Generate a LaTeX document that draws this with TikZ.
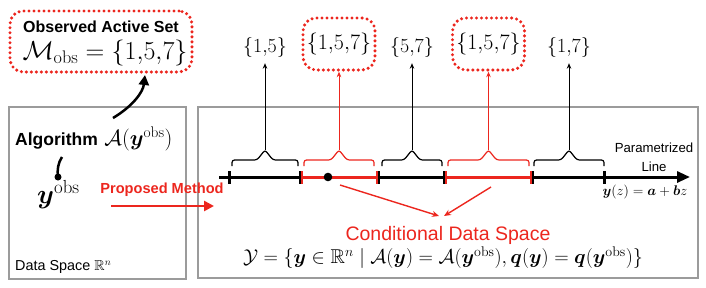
\RequirePackage{fix-cm}
\documentclass[tikz,border=0pt]{standalone}
\usepackage{amsmath,amssymb,bm}
\usepackage{fontspec}
\setsansfont{Liberation Sans}
\usetikzlibrary{arrows.meta}
\definecolor{myred}{RGB}{236,38,30}
\definecolor{mygray}{RGB}{155,155,155}
\newcommand{\fs}[1]{\fontsize{#1}{#1}\selectfont}
\tikzset{
  graybox/.style={draw=mygray, line width=2.2pt},
  reddot/.style={draw=myred, line width=3.4pt, dash pattern=on 0pt off 5pt, line cap=round, rounded corners=13pt},
  setlabel/.style={font=\fs{20}, inner sep=0pt, minimum height=32pt},
  boxlabel/.style={font=\fs{22}, reddot, inner sep=0pt, minimum width=72pt, minimum height=52pt},
  hatline/.style={line width=1.2pt},
  tickmark/.style={line width=3pt},
  pics/hat/.style={code={
    \draw[hatline, rounded corners=2.5pt] (-#1,6) -- (-#1,0) -- (-8,0) -- (0,-10) -- (8,0) -- (#1,0) -- (#1,6);
  }},
  uparrow/.style={line width=0.8pt, -{Stealth[length=5.5pt,width=4.5pt]}},
}
\begin{document}
\begin{tikzpicture}[x=1pt,y=-1pt]
\useasboundingbox (0,0) rectangle (706,287);

% boxes
\draw[graybox] (9,107) rectangle (186,279);
\draw[graybox] (198,107) rectangle (698,278);

% observed active set
\node[font=\sffamily\bfseries\fs{16}, inner sep=0pt] (obstitle) at (101,27) {Observed Active Set};
\node[font=\fs{26}, inner sep=0pt] (obsset) at (105,53) {$\mathcal{M}_{\mathrm{obs}}=\{1{,}5{,}7\}$};
\node[reddot, minimum width=182pt, minimum height=61pt] (obsbox) at (101,41.5) {};

% algorithm and y^obs
\node[anchor=base west, inner sep=0pt, font=\fs{22}] (alg) at (15,145) {{\sffamily\bfseries\fs{17.5}Algorithm} $\mathcal{A}(\bm{y}^{\mathrm{obs}})$};
\node[anchor=base west, inner sep=0pt, font=\fs{27}] (yobs) at (37,203) {$\bm{y}^{\mathrm{obs}}$};
\coordinate (algtop) at (113,118);
\coordinate (obsbot) at (145,75);
\draw[line width=2.5pt, -{Triangle[length=10pt,width=10pt]}] (algtop) .. controls (133,106) and (143,92) .. (obsbot);
\coordinate (algbot) at (62,157);
\coordinate (ydot) at (58,177);
\draw[line width=2.5pt] (algbot) .. controls (58,163) and (57,170) .. (ydot);
\fill (ydot) circle (3.5pt);

% proposed method
\node[font=\sffamily\bfseries\fs{14.6}, text=myred, inner sep=0pt] (proposed) at (162,190) {Proposed Method};
\coordinate (pmstart) at (111,206);
\coordinate (pmend) at (214,206);
\draw[myred, line width=2.5pt, -{Triangle[length=10pt,width=10pt]}] (pmstart) -- (pmend);

\node[anchor=west, inner sep=0pt, font=\sffamily\fs{14.4}] (dataspace) at (15,267) {Data Space $\mathbb{R}^n$};

% parametrized line
\coordinate (lstart) at (219,177);
\coordinate (lend) at (690,177);
\draw[line width=3pt, -{Triangle[length=13pt,width=11pt]}] (lstart) -- (lend);
\draw[myred, line width=3pt] (301,177) -- (378,177);
\draw[myred, line width=3pt] (445,177) -- (532,177);
\draw[tickmark] (229,171) -- (229,183.5);
\draw[tickmark] (604,171) -- (604,183.5);
\foreach \xa/\xb in {300/302, 379/377, 444/446, 533/531}{
  \draw[line width=1.6pt] (\xa,171) -- (\xa,183.5);
  \draw[myred, line width=2.4pt] (\xb,171) -- (\xb,183.5);
}
\coordinate (pt) at (328,177);
\fill (pt) circle (4.3pt);

% hats
\pic at (265,160) {hat=33};
\pic[myred] at (339,160) {hat=35};
\pic at (412,160) {hat=30};
\pic[myred] at (488.5,160) {hat=40.5};
\pic at (569,160) {hat=35};
\coordinate (p1) at (265,150);
\coordinate (p2) at (339,150);
\coordinate (p3) at (412,150);
\coordinate (p4) at (488.5,150);
\coordinate (p5) at (569,150);

% set labels
\node[setlabel] (s1) at (265,47) {$\{1{,}5\}$};
\node[boxlabel] (s2) at (339,44) {$\{1{,}5{,}7\}$};
\node[setlabel] (s3) at (412,47) {$\{5{,}7\}$};
\node[boxlabel] (s4) at (488.5,44) {$\{1{,}5{,}7\}$};
\node[setlabel] (s5) at (569,47) {$\{1{,}7\}$};
\draw[uparrow] (p1) -- (s1.south);
\draw[uparrow, myred] (p2) -- (s2.south);
\draw[uparrow] (p3) -- (s3.south);
\draw[uparrow, myred] (p4) -- (s4.south);
\draw[uparrow] (p5) -- (s5.south);

\node[align=center, font=\sffamily\fs{13.2}, inner sep=0pt] (plabel) at (654,157) {Parametrized\\[6pt]Line};
\node[font=\fs{14}, inner sep=0pt] (yz) at (645,192) {$\bm{y}(z)=\bm{a}+\bm{b}z$};

% conditional data space
\node[font=\sffamily\fs{19.5}, text=myred, inner sep=0pt] (cds) at (448,235) {Conditional Data Space};
\node[font=\fs{20}, inner sep=0pt] (formula) at (443,258) {$\mathcal{Y}=\{\bm{y}\in\mathbb{R}^n\mid\mathcal{A}(\bm{y})=\mathcal{A}(\bm{y}^{\mathrm{obs}}),\bm{q}(\bm{y})=\bm{q}(\bm{y}^{\mathrm{obs}})\}$};
\coordinate (c1) at (340,185);
\coordinate (c2) at (491,187);
\coordinate (ct1) at (439,216);
\coordinate (ct2) at (444,216);
\draw[myred, line width=1.4pt, -{Stealth[length=7pt,width=6pt]}] (c1) -- (ct1);
\draw[myred, line width=1.4pt, -{Stealth[length=7pt,width=6pt]}] (c2) -- (ct2);
\end{tikzpicture}
\end{document}
